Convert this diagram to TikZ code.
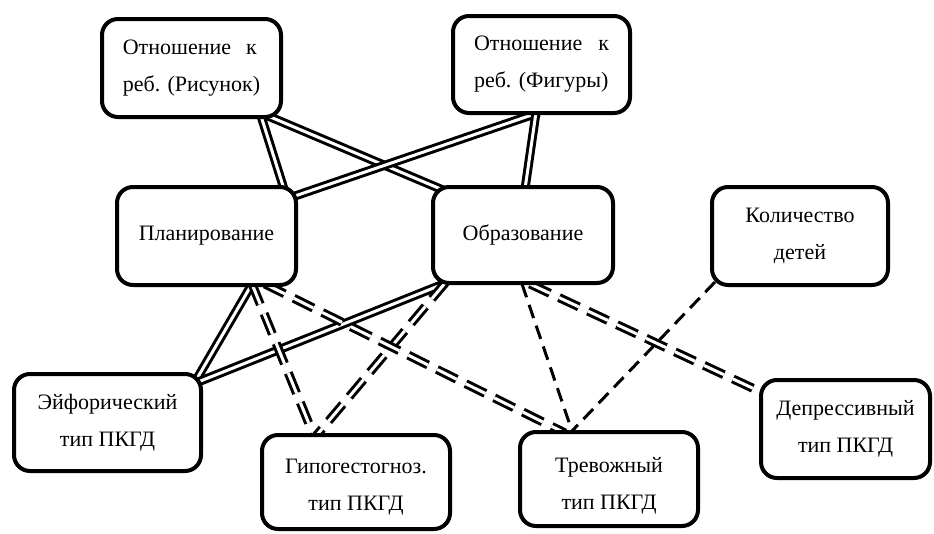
\documentclass[tikz,border=0pt]{standalone}
\usepackage{fontspec}
\setmainfont{Liberation Serif}
\usetikzlibrary{backgrounds}
\begin{document}
\begin{tikzpicture}[x=1pt,y=-1pt,
  box/.style={draw, line width=4pt, rounded corners=16pt, fill=white,
    align=center, inner sep=0pt, font=\fontsize{22}{37}\selectfont},
  solidlink/.style={draw, line width=3pt, double=white, double distance=3pt},
  dashlink/.style={draw, line width=3pt, double=white, double distance=3pt,
    dash pattern=on 22pt off 10pt},
  thinlink/.style={draw, line width=3pt, dash pattern=on 14pt off 8pt}]
\useasboundingbox (0,0) rectangle (934,533);

% boxes
\node[box, minimum width=179pt, minimum height=98pt, align=left] (ris) at (191.5,68)
  {\makebox[134pt][s]{Отношение к}\\реб. (Рисунок)};
\node[box, minimum width=177pt, minimum height=97pt, align=left] (fig) at (541.5,64.5)
  {\makebox[135pt][s]{Отношение к}\\реб. (Фигуры)};
\node[box, minimum width=179pt, minimum height=98pt] (plan) at (206.5,236) {Планирование};
\node[box, minimum width=180pt, minimum height=96pt] (obr) at (523,235) {Образование};
\node[box, minimum width=176pt, minimum height=98pt] (kol) at (800,236) {Количество\\детей};
\node[box, minimum width=187pt, minimum height=97pt] (eyf) at (107.5,422.5) {Эйфорический\\тип ПКГД};
\node[box, minimum width=188pt, minimum height=94pt] (gipo) at (356,482) {\rule{0pt}{24pt}Гипогестогноз.\\тип ПКГД};
\node[box, minimum width=178pt, minimum height=94pt] (trev) at (609,479) {\rule{0pt}{29pt}Тревожный\\тип ПКГД};
\node[box, minimum width=169pt, minimum height=98pt] (depr) at (845.5,429) {Депрессивный\\тип ПКГД};

% connectors, drawn under the boxes
\begin{pgfonlayer}{background}
\draw[solidlink] ([shift={(69.5,48)}]ris.center) -- ([shift={(77.5,-47)}]plan.center);
\draw[solidlink] ([shift={(76.5,48)}]ris.center) -- ([shift={(-80,-45)}]obr.center);
\draw[solidlink] ([shift={(-2.5,48)}]fig.center) -- ([shift={(85.5,-39)}]plan.center);
\draw[solidlink] ([shift={(-5.5,48)}]fig.center) -- ([shift={(2,-46)}]obr.center);
\draw[solidlink] ([shift={(87.5,-40.5)}]eyf.center) -- ([shift={(45.5,48)}]plan.center);
\draw[solidlink] ([shift={(90.5,-40.5)}]eyf.center) -- ([shift={(-77,48)}]obr.center);
\draw[dashlink] ([shift={(45.5,48)}]plan.center) -- ([shift={(-42,-46)}]gipo.center);
\draw[dashlink] ([shift={(-77,47)}]obr.center) -- ([shift={(-40,-46)}]gipo.center);
\draw[dashlink] ([shift={(58.5,48)}]plan.center) -- ([shift={(-44,-46)}]trev.center);
\draw[dashlink] ([shift={(7,49)}]obr.center) -- ([shift={(-82.5,-36)}]depr.center);
\draw[thinlink] ([shift={(-1,49)}]obr.center) -- ([shift={(-37,-48)}]trev.center);
\draw[thinlink] ([shift={(-85,46)}]kol.center) -- ([shift={(-37,-48)}]trev.center);
\end{pgfonlayer}
\end{tikzpicture}
\end{document}
